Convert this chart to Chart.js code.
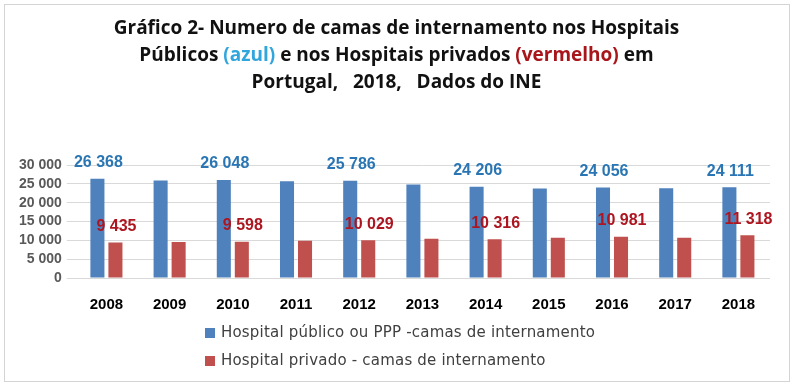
<!DOCTYPE html>
<html>
<head>
<meta charset="utf-8">
<script src="https://cdn.jsdelivr.net/npm/chart.js@4/dist/chart.umd.min.js"></script>
<style>
  body { margin: 0; background: #fff; }
  #wrap { position: relative; width: 793px; height: 386px; overflow: hidden; }
  #frame { position: absolute; left: 4px; top: 4px; width: 784px; height: 376px; border: 1px solid #d4d4d4; }
  #title { position: absolute; left: 0; top: 14px; width: 793px; text-align: center;
           font: bold 19px "Open Sans", "Noto Sans", sans-serif; line-height: 27px; color: #111; }
  #title .azul { color: #30a6dc; }
  #title .verm { color: #a8161c; }
  #legend { position: absolute; left: 205px; top: 318px; font: 15px "DejaVu Sans", sans-serif;
            letter-spacing: 0.2px; color: #404040; }
  #legend div { height: 28px; line-height: 28px; }
  #legend span.box { display: inline-block; width: 10px; height: 10px; margin-right: 6px; vertical-align: -1px; }
  canvas { position: absolute; left: 0; top: 0; }
</style>
</head>
<body>
<div id="wrap">
  <div id="frame"></div>
  <canvas id="myBar" width="793" height="386"></canvas>
  <div id="title">Gráfico 2- Numero de camas de internamento nos Hospitais<br>
    Públicos <span class="azul">(azul)</span> e nos Hospitais privados <span class="verm">(vermelho)</span> em<br>
    Portugal,&nbsp;&nbsp; 2018,&nbsp;&nbsp; Dados do INE</div>
  <div id="legend"></div>
</div>
<script>
var years = ["2008", "2009", "2010", "2011", "2012", "2013", "2014", "2015", "2016", "2017", "2018"];
var publicBeds = [26368, 25900, 26048, 25700, 25786, 24800, 24206, 23750, 24056, 23800, 24111];
var privateBeds = [9435, 9580, 9598, 9900, 10029, 10400, 10316, 10700, 10981, 10700, 11318];
var labelledYears = ["2008", "2010", "2012", "2014", "2016", "2018"];
var yTicks = [0, 5000, 10000, 15000, 20000, 25000, 30000];

function fmt(v) {
  return String(v).replace(/\B(?=(\d{3})+(?!\d))/g, " ");
}

// value labels above the bars, only on the labelled years
var valueLabels = {
  id: "valueLabels",
  afterDatasetsDraw: function (chart) {
    var ctx = chart.ctx;
    ctx.save();
    ctx.font = "bold 16px 'Liberation Sans', Arial, sans-serif";
    ctx.textAlign = "center";
    ctx.textBaseline = "middle";
    chart.data.datasets.forEach(function (ds, i) {
      chart.getDatasetMeta(i).data.forEach(function (bar, j) {
        if (labelledYears.indexOf(chart.data.labels[j]) < 0) return;
        ctx.fillStyle = ds.labelColor;
        ctx.fillText(fmt(ds.data[j]), bar.x + 1, bar.y - 16);
      });
    });
    ctx.restore();
  }
};

var myBarChart = new Chart(document.getElementById("myBar"), {
  "type": "bar",
  "data": {
    "labels": years,
    "datasets": [
      {
        "label": "Hospital público ou PPP -camas de internamento",
        "backgroundColor": "#4f81bd",
        "labelColor": "#2a76b4",
        "data": publicBeds
      },
      {
        "label": "Hospital privado - camas de internamento",
        "backgroundColor": "#c0504d",
        "labelColor": "#ad1620",
        "data": privateBeds
      }
    ]
  },
  "options": {
    "responsive": false,
    "animation": false,
    "categoryPercentage": 0.57,
    "barPercentage": 0.78,
    "layout": { "padding": { "top": 165, "left": 14, "right": 23, "bottom": 62 } },
    "plugins": {
      "legend": { "display": false },
      "tooltip": { "enabled": false }
    },
    "scales": {
      "x": {
        "grid": { "display": false },
        "border": { "display": false },
        "ticks": { "color": "#000", "padding": 10, "font": { "family": "'Liberation Sans', Arial, sans-serif", "size": 15, "weight": "bold" } }
      },
      "y": {
        "min": 0,
        "max": 30000,
        "afterBuildTicks": function (axis) {
          axis.ticks = yTicks.map(function (v) { return { value: v }; });
        },
        "grid": { "color": "#d9d9d9", "tickLength": 8 },
        "border": { "display": false },
        "ticks": {
          "autoSkip": false,
          "color": "#595959",
          "padding": 5,
          "font": { "family": "'Liberation Sans', Arial, sans-serif", "size": 14, "weight": "bold" },
          "callback": function (v) { return fmt(v); }
        }
      }
    }
  },
  "plugins": [valueLabels]
});

var legend = document.getElementById("legend");
myBarChart.data.datasets.forEach(function (ds) {
  var row = document.createElement("div");
  var box = document.createElement("span");
  box.className = "box";
  box.style.background = ds.backgroundColor;
  row.appendChild(box);
  row.appendChild(document.createTextNode(ds.label));
  legend.appendChild(row);
});
</script>
</body>
</html>
